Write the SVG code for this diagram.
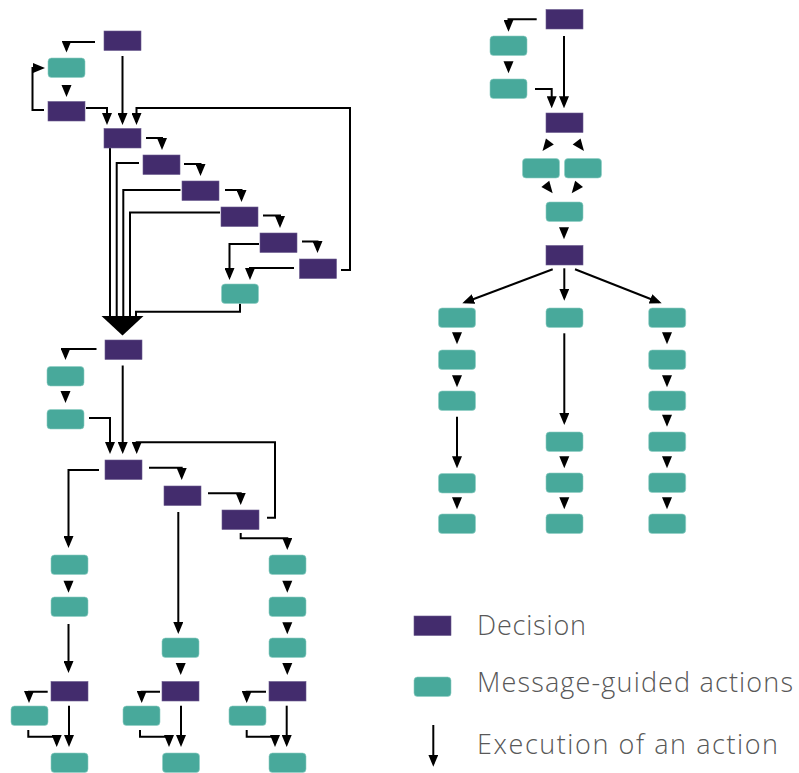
<svg xmlns="http://www.w3.org/2000/svg" xmlns:xlink="http://www.w3.org/1999/xlink" width="799" height="773" viewBox="0 0 799 773">
<style>
.d{fill:#432c6d;stroke:#6a5a8e;stroke-width:0.6}
.g{fill:#48a99b;stroke:#8fcfc5;stroke-width:0.6}
.c{fill:none;stroke:#000;stroke-width:2;marker-end:url(#a)}
.n{fill:none;stroke:#000;stroke-width:2}
.t{font-family:"Open Sans","Noto Sans",sans-serif;font-weight:300;font-size:27px;fill:#585858}
</style>
<defs>
<marker id="a" markerUnits="userSpaceOnUse" markerWidth="12" markerHeight="10" viewBox="0 0 12 10" refX="9" refY="5" orient="auto"><path d="M0,0 L12,5 L0,10 Z" fill="#000"/></marker>
<path id="ah" d="M-5,-12 H5 L0,0 Z" fill="#000"/>
<rect id="D" width="37" height="19.5" class="d"/>
<rect id="G" width="37" height="19.5" rx="3.5" class="g"/>
</defs>
<rect width="799" height="773" fill="#fff"/>

<g id="connectors">
<!-- top-left cluster -->
<path class="c" d="M95,42 H66.5 V49.5"/>
<use xlink:href="#ah" x="66.5" y="97"/>
<path class="c" d="M44,110 H32.5 V68 H42"/>
<path class="c" d="M86,108 H107 V122"/>
<path class="c" d="M122.5,56 V122"/>
<path class="c" d="M341,270 H350 V108 H136.5 V122"/>
<path class="c" d="M146,138 H162 V147"/>
<path class="c" d="M184,164 H200.5 V173"/>
<path class="c" d="M225,190 H241.5 V199"/>
<path class="c" d="M263,215.5 H280 V225"/>
<path class="c" d="M302,241.5 H317.5 V250"/>
<path class="c" d="M259,244 H229.5 V277"/>
<path class="c" d="M294,268 H250 V277"/>
<path class="n" d="M110,148 V317"/>
<path class="n" d="M139,163 H116.7 V317"/>
<path class="n" d="M180.5,190 H123.3 V317"/>
<path class="n" d="M220,212.5 H130 V317"/>
<path class="n" d="M240,303.5 V311.7 H136 V317"/>
<polygon points="101.5,316 143.5,316 122.5,335.5" fill="#000"/>
<!-- middle-left cluster -->
<path class="c" d="M96.5,349 H65.5 V357"/>
<use xlink:href="#ah" x="65.5" y="403"/>
<path class="c" d="M89,418 H110 V451"/>
<path class="c" d="M122.7,365.5 V451"/>
<path class="c" d="M267,517.7 H275 V442.3 H136.7 V451"/>
<path class="c" d="M99,470 H68.5 V545"/>
<path class="c" d="M149,467.7 H181.7 V477"/>
<path class="c" d="M208,493.3 H240.7 V502"/>
<path class="c" d="M178.3,512 V631"/>
<path class="c" d="M240.7,533 V538.3 H287.3 V547"/>
<!-- left column -->
<use xlink:href="#ah" x="68.5" y="592.7"/>
<path class="c" d="M68.5,624 V670"/>
<path class="c" d="M47.7,691.7 H29 V700"/>
<path class="c" d="M28.3,730 V736.7 H56.7 V744"/>
<path class="c" d="M69,705.7 V744"/>
<!-- middle column -->
<use xlink:href="#ah" x="180.7" y="675"/>
<path class="c" d="M160,691.7 H141.7 V700"/>
<path class="c" d="M140,730 V736.7 H169 V744"/>
<path class="c" d="M181,705.7 V744"/>
<!-- right column -->
<use xlink:href="#ah" x="287.3" y="592.7"/>
<use xlink:href="#ah" x="287.3" y="634.3"/>
<use xlink:href="#ah" x="287.3" y="675"/>
<path class="c" d="M266,691.7 H246.7 V700"/>
<path class="c" d="M246.7,730 V736.7 H275 V744"/>
<path class="c" d="M286.7,705.7 V744"/>
<!-- right cluster -->
<path class="c" d="M536.7,19.3 H508.5 V28.7"/>
<use xlink:href="#ah" x="508.5" y="73.3"/>
<path class="c" d="M535,89 H551.7 V105.3"/>
<path class="c" d="M564,36 V105.3"/>
<use xlink:href="#ah" transform="translate(542.5,151) rotate(38)"/>
<use xlink:href="#ah" transform="translate(584,151) rotate(-38)"/>
<use xlink:href="#ah" transform="translate(552.7,193.3) rotate(-38)"/>
<use xlink:href="#ah" transform="translate(571.7,193.3) rotate(38)"/>
<use xlink:href="#ah" x="564" y="239.3"/>
<path class="c" d="M552.7,269.3 L465.1,302.2"/>
<path class="c" d="M564.3,268.3 V297.7"/>
<path class="c" d="M575,269.3 L658.9,302.2"/>
<!-- right-left column -->
<use xlink:href="#ah" x="457" y="344.3"/>
<use xlink:href="#ah" x="457" y="387.3"/>
<path class="c" d="M457,416.7 V465.3"/>
<use xlink:href="#ah" x="457" y="509.3"/>
<!-- right-middle column -->
<path class="c" d="M564.3,333.3 V422"/>
<use xlink:href="#ah" x="564.3" y="468.3"/>
<use xlink:href="#ah" x="564.3" y="509.3"/>
<!-- right-right column -->
<use xlink:href="#ah" x="667" y="344.3"/>
<use xlink:href="#ah" x="667" y="387.3"/>
<use xlink:href="#ah" x="667" y="426.7"/>
<use xlink:href="#ah" x="667" y="468.3"/>
<use xlink:href="#ah" x="667" y="509.3"/>
</g>

<!-- top-left cluster nodes -->
<g id="d0"><use xlink:href="#D" x="104" y="31"/></g>
<g id="g1"><use xlink:href="#G" x="48" y="58"/></g>
<g id="d1"><use xlink:href="#D" x="48" y="101.5"/></g>
<g id="d2"><use xlink:href="#D" x="104" y="128.5"/></g>
<g id="d3"><use xlink:href="#D" x="143" y="155"/></g>
<g id="d4"><use xlink:href="#D" x="182" y="181"/></g>
<g id="d5"><use xlink:href="#D" x="221" y="207"/></g>
<g id="d6"><use xlink:href="#D" x="260" y="233"/></g>
<g id="d7"><use xlink:href="#D" x="299.5" y="259"/></g>
<g id="gf"><use xlink:href="#G" x="221.5" y="284"/></g>
<!-- middle-left cluster nodes -->
<g id="d8"><use xlink:href="#D" x="105" y="340"/></g>
<g id="g2"><use xlink:href="#G" x="47" y="366.5"/></g>
<g id="g3"><use xlink:href="#G" x="47" y="409.5"/></g>
<g id="d9"><use xlink:href="#D" x="105" y="460"/></g>
<g id="d10"><use xlink:href="#D" x="164" y="486"/></g>
<g id="d11"><use xlink:href="#D" x="222" y="510"/></g>
<!-- left column -->
<g id="g4"><use xlink:href="#G" x="51" y="555"/></g>
<g id="g5"><use xlink:href="#G" x="51" y="597"/></g>
<g id="d12"><use xlink:href="#D" x="51" y="681.5"/></g>
<g id="gs1"><use xlink:href="#G" x="11" y="706"/></g>
<g id="gb1"><use xlink:href="#G" x="51" y="753"/></g>
<!-- middle column -->
<g id="g6"><use xlink:href="#G" x="162" y="638"/></g>
<g id="d13"><use xlink:href="#D" x="162" y="681.5"/></g>
<g id="gs2"><use xlink:href="#G" x="123" y="706"/></g>
<g id="gb2"><use xlink:href="#G" x="162.5" y="753"/></g>
<!-- right column -->
<g id="g7"><use xlink:href="#G" x="269" y="555"/></g>
<g id="g8"><use xlink:href="#G" x="269" y="597"/></g>
<g id="g9"><use xlink:href="#G" x="269" y="638"/></g>
<g id="d14"><use xlink:href="#D" x="269" y="681.5"/></g>
<g id="gs3"><use xlink:href="#G" x="229" y="706"/></g>
<g id="gb3"><use xlink:href="#G" x="269" y="753"/></g>
<!-- right cluster -->
<g id="dr0"><use xlink:href="#D" x="546" y="9.5"/></g>
<g id="gr1"><use xlink:href="#G" x="490" y="36"/></g>
<g id="gr2"><use xlink:href="#G" x="490" y="79"/></g>
<g id="dr1"><use xlink:href="#D" x="546" y="113"/></g>
<g id="gr3"><use xlink:href="#G" x="522.5" y="158.5"/></g>
<g id="gr4"><use xlink:href="#G" x="564.5" y="158.5"/></g>
<g id="gr5"><use xlink:href="#G" x="546" y="202"/></g>
<g id="dr2"><use xlink:href="#D" x="546" y="245.5"/></g>
<g id="gl1"><use xlink:href="#G" x="438.5" y="308"/></g>
<g id="gl2"><use xlink:href="#G" x="438.5" y="350"/></g>
<g id="gl3"><use xlink:href="#G" x="438.5" y="391"/></g>
<g id="gl4"><use xlink:href="#G" x="438.5" y="473.5"/></g>
<g id="gl5"><use xlink:href="#G" x="438.5" y="514"/></g>
<g id="gm1"><use xlink:href="#G" x="546" y="308"/></g>
<g id="gm2"><use xlink:href="#G" x="546" y="432"/></g>
<g id="gm3"><use xlink:href="#G" x="546" y="473"/></g>
<g id="gm4"><use xlink:href="#G" x="546" y="514"/></g>
<g id="gc1"><use xlink:href="#G" x="648.7" y="308"/></g>
<g id="gc2"><use xlink:href="#G" x="648.7" y="350"/></g>
<g id="gc3"><use xlink:href="#G" x="648.7" y="391"/></g>
<g id="gc4"><use xlink:href="#G" x="648.7" y="432"/></g>
<g id="gc5"><use xlink:href="#G" x="648.7" y="473"/></g>
<g id="gc6"><use xlink:href="#G" x="648.7" y="514"/></g>

<!-- legend -->
<g id="legend-decision"><use xlink:href="#D" x="414" y="616"/><text class="t" x="477" y="634.5" textLength="109" lengthAdjust="spacing">Decision</text></g>
<g id="legend-action"><use xlink:href="#G" x="414" y="677"/><text class="t" x="477" y="692" textLength="316" lengthAdjust="spacing">Message-guided actions</text></g>
<g id="legend-execution"><path class="c" d="M433.3,725 V763.7"/><text class="t" x="477" y="754" textLength="301" lengthAdjust="spacing">Execution of an action</text></g>
</svg>
